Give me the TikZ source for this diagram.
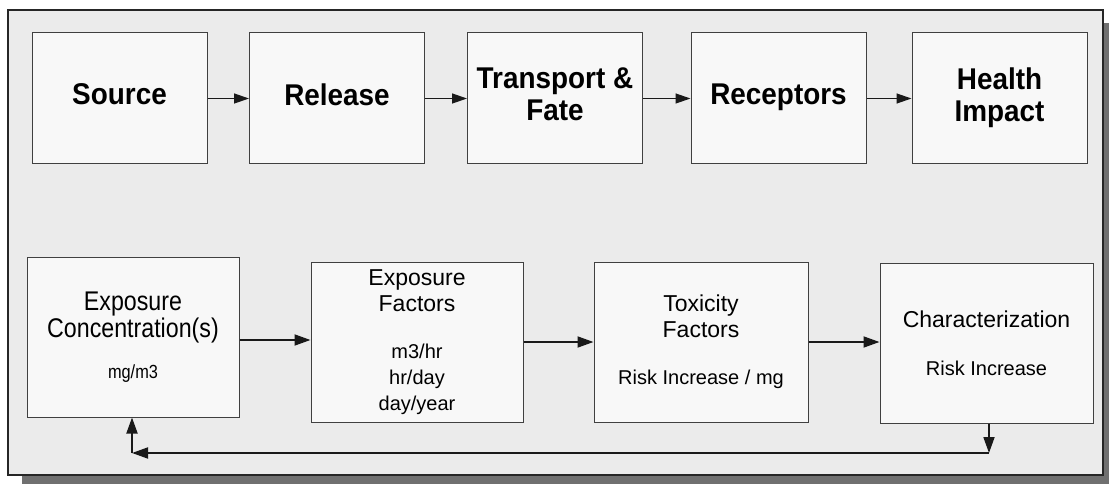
\documentclass[tikz,border=0pt]{standalone}
\usepackage{fontspec}
\setmainfont{Liberation Sans}
\newfontfamily\headfont[FakeStretch=0.93]{Liberation Sans}
\newfontfamily\tallfont[FakeStretch=0.86]{Liberation Sans}
\usetikzlibrary{arrows.meta}
\definecolor{framegray}{HTML}{EBEBEB}
\definecolor{boxgray}{HTML}{F8F8F8}
\definecolor{shadowgray}{HTML}{707070}
\definecolor{edgegray}{HTML}{404040}
\tikzset{
  topbox/.style={draw=edgegray, fill=boxgray, line width=1pt, minimum width=175pt,
    minimum height=131pt, inner sep=0pt, align=center, text depth=8pt,
    font=\headfont\bfseries\fontsize{30}{32}\selectfont},
  lowbox/.style={draw=edgegray, fill=boxgray, line width=1pt, minimum width=213pt,
    minimum height=160pt, inner sep=0pt, align=center,
    font=\fontsize{23}{25.6}\selectfont},
  topflow/.style={-{Triangle[length=15pt,width=10pt]}, line width=1.3pt, color=black!90},
  lowflow/.style={-{Triangle[length=16pt,width=11pt]}, line width=1.8pt, color=black!90}
}
\newcommand{\unitsize}{\fontsize{20}{21}\selectfont}
\newcommand{\concsize}{\tallfont\fontsize{27}{27}\selectfont}

\begin{document}
\begin{tikzpicture}[x=1pt,y=-1pt]
		%%%%% START %%%%%
		\useasboundingbox (0,0) rectangle (1109,484);
		
		\fill[shadowgray] (22,23) rectangle (1109,484);
		\draw[fill=framegray, line width=1.5pt, draw=black!85] (8,10) rectangle (1103,475);
		
		\node[topbox] (source) at (119.5,98.5) {Source};
		\node[topbox] (release) at (337,98.5) {Release};
		\node[topbox] (transport) at (555,98.5) {Transport \&\\Fate};
		\node[topbox] (receptors) at (778.5,98.5) {Receptors};
		\node[topbox] (health) at (999.5,98.5) {Health\\Impact};
		
		\draw[topflow] (source) -- (release);
		\draw[topflow] (release) -- (transport);
		\draw[topflow] (transport) -- (receptors);
		\draw[topflow] (receptors) -- (health);
		
		\node[lowbox, minimum width=212pt, font=\concsize] (conc) at (133,337)
			{\concsize Exposure\\\concsize Concentration(s)\\[14pt]\tallfont\fontsize{19}{21}\selectfont mg/m3};
		\node[lowbox, minimum width=212pt] (expo) at (417,342)
			{Exposure\\Factors\\[22pt]\unitsize m3/hr\\\unitsize hr/day\\\unitsize day/year};
		\node[lowbox, minimum width=214pt] (toxic) at (701,342)
			{Toxicity\\Factors\\[22pt]\unitsize Risk Increase / mg};
		\node[lowbox] (charac) at (986.5,343)
			{Characterization\\[22pt]\unitsize Risk Increase};
		
		\draw[lowflow] ([yshift=-3pt]conc.east) -- ([yshift=-3pt]conc.east -| expo.west);
		\draw[lowflow] (expo) -- (toxic);
		\draw[lowflow] (toxic.east) -- (toxic.east -| charac.west);
		
		\coordinate (turnR) at (989,453);
		\coordinate (turnL) at (132,453);
		\draw[lowflow] (charac.south -| turnR) -- (turnR);
		\draw[lowflow] (turnR) -- (turnL);
		\draw[lowflow] (turnL) -- (conc.south -| turnL);
		
		%%%%% END %%%%%
	\end{tikzpicture}
\end{document}
